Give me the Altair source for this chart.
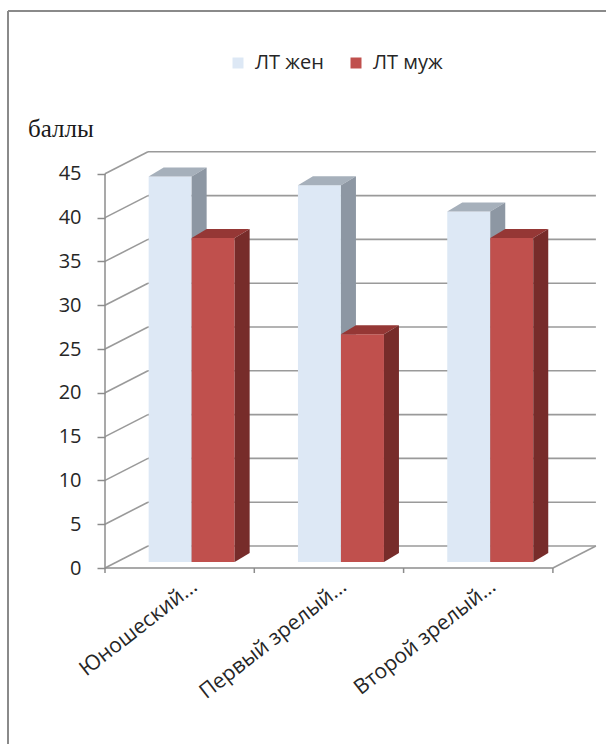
import altair as alt
import pandas as pd

# ---------------- data ----------------
categories = ["Юношеский...", "Первый зрелый...", "Второй зрелый..."]
series = ["ЛТ жен", "ЛТ муж"]
zhen = [44, 43, 40]
muzh = [37, 26, 37]
y_ticks = [0, 5, 10, 15, 20, 25, 30, 35, 40, 45]
y_title = "баллы"

# ---------------- layout (pixels -> data units) ----------------
W, H = 495, 420
CAT_PX = 149.3   # pixels per category
PT_PX = 8.76     # pixels per point
XMAX = W / CAT_PX
YMAX = H / PT_PX
WALL_DX, WALL_DY = 43 / CAT_PX, 22 / PT_PX
PLANE_DX, PLANE_DY = 12 / CAT_PX, 6 / PT_PX
BAR_W = 43 / CAT_PX
BAR_DX, BAR_DY = 15 / CAT_PX, 9 / PT_PX
N = len(categories)

front_cols = ["#DDE8F5", "#C0504D"]
top_cols = ["#A6B0BB", "#953735"]
side_cols = ["#8D97A3", "#772C2A"]

FONT = "Open Sans"
SERIF = "Liberation Serif"

# ---------------- derived tables ----------------
grid_rows = []
for v in y_ticks:
    grid_rows.append(dict(x=WALL_DX, x2=N + WALL_DX, y=v + WALL_DY, y2=v + WALL_DY))
    grid_rows.append(dict(x=0.0, x2=WALL_DX, y=v, y2=v + WALL_DY))
grid_rows.append(dict(x=float(N), x2=N + WALL_DX, y=0.0, y2=WALL_DY))
grid_df = pd.DataFrame(grid_rows)

front_rows = [dict(x=0.0, x2=0.0, y=0.0, y2=float(max(y_ticks))),
              dict(x=0.0, x2=float(N), y=0.0, y2=0.0)]
for i in range(N + 1):
    front_rows.append(dict(x=float(i), x2=float(i), y=0.0, y2=-5 / PT_PX))
frontline_df = pd.DataFrame(front_rows)

face_front, face_top, face_side = [], [], []
for i, c in enumerate(categories):
    cx = i + 0.5 + PLANE_DX
    for j, (s, vals) in enumerate(zip(series, [zhen, muzh])):
        v = vals[i]
        xl = cx - BAR_W + j * BAR_W
        xr = xl + BAR_W
        y0 = PLANE_DY
        y1 = v + PLANE_DY
        face_front.append(dict(cat=c, series=s, x=xl, x2=xr, y=y0, y2=y1))
        face_top.append(dict(cat=c, series=s, y=y1, x=xl, x2=xr))
        face_top.append(dict(cat=c, series=s, y=y1 + BAR_DY, x=xl + BAR_DX, x2=xr + BAR_DX))
        face_side.append(dict(cat=c, series=s, x=xr, y=y0, y2=y1))
        face_side.append(dict(cat=c, series=s, x=xr + BAR_DX, y=y0 + BAR_DY, y2=y1 + BAR_DY))
front_df = pd.DataFrame(face_front)
top_df = pd.DataFrame(face_top)
side_df = pd.DataFrame(face_side)

xs = alt.Scale(domain=[0, XMAX], nice=False, zero=False)
ys = alt.Scale(domain=[0, YMAX], nice=False, zero=False)

label_expr = "[" + ",".join("'" + c + "'" for c in categories) + "][floor(datum.value)]"

x_axis = alt.Axis(values=[i + 0.5 for i in range(N)], labelExpr=label_expr, domain=False,
                  ticks=False, grid=False, labelAngle=-38, labelAlign="right",
                  labelBaseline="top", labelPadding=7, labelOffset=8, labelFont=FONT,
                  labelFontSize=21, labelColor="#262626", labelOverlap=False,
                  labelFlush=False, labelLimit=400, title=None)
y_axis = alt.Axis(values=y_ticks, domain=False, grid=False, tickColor="#8c8c8c",
                  tickSize=8, tickWidth=1.5, labelFont=FONT, labelFontSize=20,
                  labelColor="#262626", labelPadding=16, title=None)


def X(field="x", **kw):
    return alt.X(f"{field}:Q", scale=xs, axis=x_axis, title=None, **kw)


def Y(field="y", **kw):
    return alt.Y(f"{field}:Q", scale=ys, axis=y_axis, title=None, **kw)


walls = alt.Chart(grid_df).mark_rule(color="#9a9a9a", strokeWidth=1.6).encode(
    x=X(), x2="x2:Q", y=Y(), y2="y2:Q",
)
front_lines = alt.Chart(frontline_df).mark_rule(color="#8c8c8c", strokeWidth=1.5).encode(
    x=X(), x2="x2:Q", y=Y(), y2="y2:Q",
)

color_enc = alt.Color("series:N", scale=alt.Scale(domain=series, range=front_cols),
                      legend=alt.Legend(orient="none", legendX=123, legendY=-95,
                                        direction="horizontal", title=None,
                                        symbolType="square", symbolSize=121,
                                        symbolStrokeWidth=0, labelFont=FONT,
                                        labelFontSize=20, labelColor="#262626",
                                        labelOffset=7, columnPadding=22, padding=0))

layers = [walls, front_lines]
for j, s in enumerate(series):
    fr = alt.Chart(front_df[front_df.series == s]).mark_rect().encode(
        x=X(), x2="x2:Q", y=Y(), y2="y2:Q", color=color_enc,
    )
    tp = alt.Chart(top_df[top_df.series == s]).mark_area(
        orient="horizontal", color=top_cols[j]).encode(
        y=Y(), x=X(stack=None), x2="x2:Q", detail="cat:N",
    )
    sd = alt.Chart(side_df[side_df.series == s]).mark_area(
        orient="vertical", color=side_cols[j]).encode(
        x=X(), y=Y(stack=None), y2="y2:Q", detail="cat:N",
    )
    layers += [fr, tp, sd]

one = pd.DataFrame({"k": [0]})
title_txt = alt.Chart(one).mark_text(
    text=y_title, font=SERIF, fontSize=25, color="#1a1a1a", align="left",
    baseline="alphabetic").encode(x=alt.value(-77), y=alt.value(-11))
frame_left = alt.Chart(one).mark_rule(color="#8a8a8a", strokeWidth=2).encode(
    x=alt.value(-97), y=alt.value(-137), y2=alt.value(620))
frame_top = alt.Chart(one).mark_rule(color="#8a8a8a", strokeWidth=2).encode(
    x=alt.value(-97), x2=alt.value(520), y=alt.value(-137))
layers += [title_txt, frame_left, frame_top]

chart = alt.layer(*layers).properties(
    width=W, height=H,
    autosize=alt.AutoSizeParams(type="none"),
    padding={"left": 105, "top": 148, "right": 6, "bottom": 176},
    background="white",
).configure_view(stroke=None)

chart.save("out.html", embed_options={"renderer": "svg", "actions": False})
